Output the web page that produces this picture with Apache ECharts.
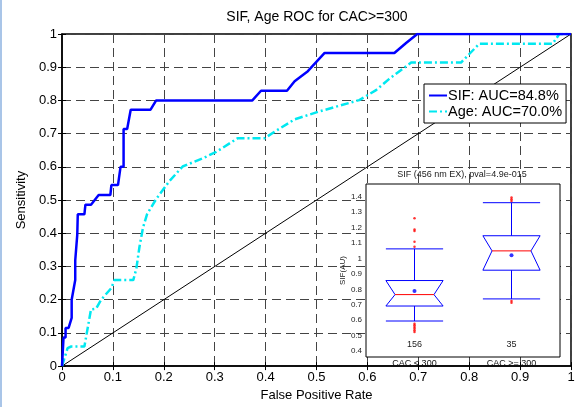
<!DOCTYPE html>
<html>
<head>
<meta charset="utf-8">
<script src="https://cdn.jsdelivr.net/npm/echarts@6/dist/echarts.min.js"></script>
<style>
  html, body { margin: 0; padding: 0; background: #fff; }
  #c1 { position: absolute; left: 0; top: 0; width: 578px; height: 407px; }
  #edge { position: absolute; left: 0; top: 0; width: 2px; height: 407px; background: #a9c5e8; }
</style>
</head>
<body>
<div id="c1"></div>
<div id="edge"></div>
<script>
// ROC curves (false positive rate / sensitivity)
const sifFpr = [0, 0.003, 0.007, 0.007, 0.013, 0.019, 0.019, 0.026, 0.026, 0.030, 0.031, 0.044, 0.046, 0.057, 0.072, 0.095, 0.097, 0.110, 0.115, 0.121, 0.121, 0.128, 0.135, 0.174, 0.185, 0.374, 0.391, 0.442, 0.457, 0.483, 0.516, 0.653, 0.676, 0.698, 1]
const sifTpr = [0, 0.086, 0.086, 0.115, 0.115, 0.145, 0.200, 0.259, 0.318, 0.396, 0.457, 0.457, 0.486, 0.486, 0.515, 0.515, 0.545, 0.545, 0.600, 0.600, 0.714, 0.714, 0.772, 0.772, 0.800, 0.800, 0.829, 0.829, 0.858, 0.888, 0.943, 0.943, 0.973, 1, 1]
const ageFpr = [0, 0.011, 0.018, 0.044, 0.057, 0.067, 0.077, 0.097, 0.103, 0.140, 0.146, 0.152, 0.159, 0.167, 0.185, 0.211, 0.237, 0.277, 0.303, 0.345, 0.398, 0.421, 0.457, 0.506, 0.584, 0.617, 0.643, 0.686, 0.784, 0.820, 0.964, 0.977, 1]
const ageTpr = [0, 0.054, 0.059, 0.059, 0.171, 0.173, 0.200, 0.235, 0.259, 0.259, 0.293, 0.357, 0.416, 0.457, 0.503, 0.557, 0.601, 0.626, 0.645, 0.686, 0.686, 0.709, 0.743, 0.767, 0.801, 0.831, 0.865, 0.914, 0.914, 0.971, 0.971, 1, 1]
const chanceLine = [0, 1]
const sifName = 'SIF: AUC=84.8%'
const ageName = 'Age: AUC=70.0%'

// inset box plot
const groups = ['CAC < 300', 'CAC >= 300']
const groupCounts = ['156', '35']
const boxLow = [0.595, 0.738]
const boxQ1 = [0.692, 0.924]
const boxMedian = [0.766, 1.049]
const boxQ3 = [0.857, 1.147]
const boxHigh = [1.062, 1.361]
const boxMean = [0.790, 1.021]
const outlierGroup = [0, 0, 0, 0, 0, 0, 0, 0, 0, 0, 0, 1, 1, 1, 1, 1]
const outlierValue = [1.260, 1.188, 1.177, 1.108, 1.076, 0.578, 0.567, 0.556, 0.546, 0.535, 0.524, 1.394, 1.383, 1.372, 0.725, 0.714]
const insetTicks = [0.4, 0.5, 0.6, 0.7, 0.8, 0.9, 1, 1.1, 1.2, 1.3, 1.4]

const font = "'Liberation Sans', Arial, sans-serif"
const zip = (a, b) => a.map((v, i) => [v, b[i]])

const myChart = echarts.init(document.getElementById('c1'), null, { renderer: 'canvas' })

const boxData = groups.map((g, i) => [i, boxQ1[i], boxMedian[i], boxQ3[i], boxLow[i], boxHigh[i]])

function renderBox(params, api) {
  const c = api.value(0)
  const q1 = api.coord([c, api.value(1)])
  const med = api.coord([c, api.value(2)])
  const q3 = api.coord([c, api.value(3)])
  const lo = api.coord([c, api.value(4)])
  const hi = api.coord([c, api.value(5)])
  const w = api.size([1, 0])[0] * 0.59
  const x0 = q1[0] - w / 2
  const x1 = q1[0] + w / 2
  const n = w * 0.16
  const blue = { stroke: '#0000ff', lineWidth: 1, fill: null }
  return {
    type: 'group',
    children: [
      { type: 'line', shape: { x1: hi[0], y1: hi[1], x2: q3[0], y2: q3[1] }, style: blue },
      { type: 'line', shape: { x1: q1[0], y1: q1[1], x2: lo[0], y2: lo[1] }, style: blue },
      { type: 'line', shape: { x1: x0, y1: hi[1], x2: x1, y2: hi[1] }, style: blue },
      { type: 'line', shape: { x1: x0, y1: lo[1], x2: x1, y2: lo[1] }, style: blue },
      {
        type: 'polygon',
        shape: { points: [[x0, q3[1]], [x1, q3[1]], [x1 - n, med[1]], [x1, q1[1]], [x0, q1[1]], [x0 + n, med[1]]] },
        style: blue
      },
      { type: 'line', shape: { x1: x0 + n, y1: med[1], x2: x1 - n, y2: med[1] }, style: { stroke: '#ff0000', lineWidth: 1 } }
    ]
  }
}

function renderCount(params, api) {
  const p = api.coord([api.value(0), 0.443])
  return {
    type: 'text',
    style: { text: groupCounts[params.dataIndex], x: p[0], y: p[1], align: 'center', verticalAlign: 'middle', fill: '#222', font: '9px ' + font }
  }
}

var option = {
  animation: false,
  textStyle: { fontFamily: font },
  title: [
    {
      text: 'SIF, Age ROC for CAC>=300',
      left: 317,
      top: 10,
      padding: 0,
      textAlign: 'center',
      textStyle: { fontSize: 14, fontWeight: 'normal', color: '#000', fontFamily: font }
    },
    {
      text: 'SIF (456 nm EX), pval=4.9e-015',
      left: 462,
      top: 170,
      padding: 0,
      textAlign: 'center',
      textStyle: { fontSize: 9, fontWeight: 'normal', color: '#222', fontFamily: font }
    }
  ],
  legend: {
    data: [sifName, ageName],
    orient: 'vertical',
    left: 424,
    top: 84,
    padding: [4, 4, 4, 4],
    itemGap: 1,
    itemWidth: 18,
    itemHeight: 13,
    backgroundColor: '#fff',
    borderColor: '#000',
    borderWidth: 1,
    borderRadius: 0,
    itemStyle: { opacity: 0 },
    textStyle: { fontSize: 14.5, color: '#000', fontFamily: font, padding: [0, 0, 0, -4] }
  },
  grid: [
    { left: 62, right: 7, top: 34, bottom: 32, show: true, borderColor: '#000', borderWidth: 1.5, backgroundColor: '#fff' },
    { left: 366, top: 184, width: 194, height: 173, show: true, borderColor: '#000', borderWidth: 1, backgroundColor: '#fff', z: 3 }
  ],
  xAxis: [
    {
      gridIndex: 0, type: 'value', min: 0, max: 1, interval: 0.1,
      name: 'False Positive Rate', nameLocation: 'middle', nameGap: 17,
      nameTextStyle: { fontSize: 13, color: '#000' },
      axisLine: { show: true, onZero: false, lineStyle: { color: '#000', width: 1.5 } },
      axisTick: { inside: true, length: 4, lineStyle: { color: '#000' } },
      axisLabel: { fontSize: 13, color: '#000', margin: 5, formatter: v => String(+v.toFixed(1)) },
      splitLine: { show: true, lineStyle: { color: '#444', type: [9, 5], width: 1 } }
    },
    {
      gridIndex: 0, type: 'value', min: 0, max: 1, interval: 0.1, position: 'top',
      axisLine: { show: false }, axisLabel: { show: false }, splitLine: { show: false },
      axisTick: { inside: true, length: 4, lineStyle: { color: '#000' } }
    },
    {
      gridIndex: 1, type: 'category', data: groups, z: 6,
      axisLine: { show: false },
      axisTick: { show: false },
      axisLabel: { fontSize: 9, color: '#111', margin: 2, lineHeight: 10 },
      splitLine: { show: false }
    }
  ],
  yAxis: [
    {
      gridIndex: 0, type: 'value', min: 0, max: 1, interval: 0.1,
      name: 'Sensitivity', nameLocation: 'middle', nameGap: 25,
      nameTextStyle: { fontSize: 13, color: '#000' },
      axisLine: { show: true, onZero: false, lineStyle: { color: '#000', width: 1.5 } },
      axisTick: { inside: true, length: 4, lineStyle: { color: '#000' } },
      axisLabel: { fontSize: 13, color: '#000', margin: 5, formatter: v => String(+v.toFixed(1)) },
      splitLine: { show: true, lineStyle: { color: '#444', type: [9, 5], width: 1 } }
    },
    {
      gridIndex: 0, type: 'value', min: 0, max: 1, interval: 0.1, position: 'right',
      axisLine: { show: false }, axisLabel: { show: false }, splitLine: { show: false },
      axisTick: { inside: true, length: 4, lineStyle: { color: '#000' } }
    },
    {
      gridIndex: 1, type: 'value', min: 0.362, max: 1.482, z: 4,
      name: 'SIF(AU)', nameLocation: 'middle', nameGap: 17,
      nameTextStyle: { fontSize: 8, color: '#222' },
      axisLine: { show: false },
      axisTick: { inside: true, length: 3, customValues: insetTicks, lineStyle: { color: '#000' } },
      axisLabel: { fontSize: 8, color: '#222', margin: 4, customValues: insetTicks, formatter: v => String(+v.toFixed(1)) },
      splitLine: { show: false }
    },
    {
      gridIndex: 1, type: 'value', min: 0.362, max: 1.482, position: 'right', z: 4,
      axisLine: { show: false }, axisLabel: { show: false }, splitLine: { show: false },
      axisTick: { inside: true, length: 3, customValues: insetTicks, lineStyle: { color: '#000' } }
    }
  ],
  series: [
    {
      name: 'chance', type: 'line', xAxisIndex: 0, yAxisIndex: 0,
      data: zip(chanceLine, chanceLine), symbol: 'none',
      lineStyle: { color: '#000', width: 1 }, silent: true
    },
    {
      name: ageName, type: 'line', xAxisIndex: 0, yAxisIndex: 0,
      data: zip(ageFpr, ageTpr), symbol: 'none', color: '#00e8f0',
      lineStyle: { color: '#00e8f0', width: 2.5, type: [8, 3, 2, 3] }
    },
    {
      name: sifName, type: 'line', xAxisIndex: 0, yAxisIndex: 0,
      data: zip(sifFpr, sifTpr), symbol: 'none', color: '#0000ff',
      lineStyle: { color: '#0000ff', width: 2.5 }
    },
    {
      name: 'box', type: 'custom', xAxisIndex: 2, yAxisIndex: 2, z: 5,
      data: boxData, renderItem: renderBox, silent: true
    },
    {
      name: 'outliers', type: 'scatter', xAxisIndex: 2, yAxisIndex: 2, z: 6,
      data: zip(outlierGroup, outlierValue), symbolSize: 2.5,
      itemStyle: { color: '#ff0000' }, silent: true
    },
    {
      name: 'mean', type: 'scatter', xAxisIndex: 2, yAxisIndex: 2, z: 6,
      data: groups.map((g, i) => [i, boxMean[i]]), symbolSize: 4,
      itemStyle: { color: '#0000ff' }, silent: true
    },
    {
      name: 'count', type: 'custom', xAxisIndex: 2, yAxisIndex: 2, z: 6,
      data: groups.map((g, i) => [i]), renderItem: renderCount, silent: true
    }
  ]
}

option && myChart.setOption(option)
</script>
</body>
</html>
